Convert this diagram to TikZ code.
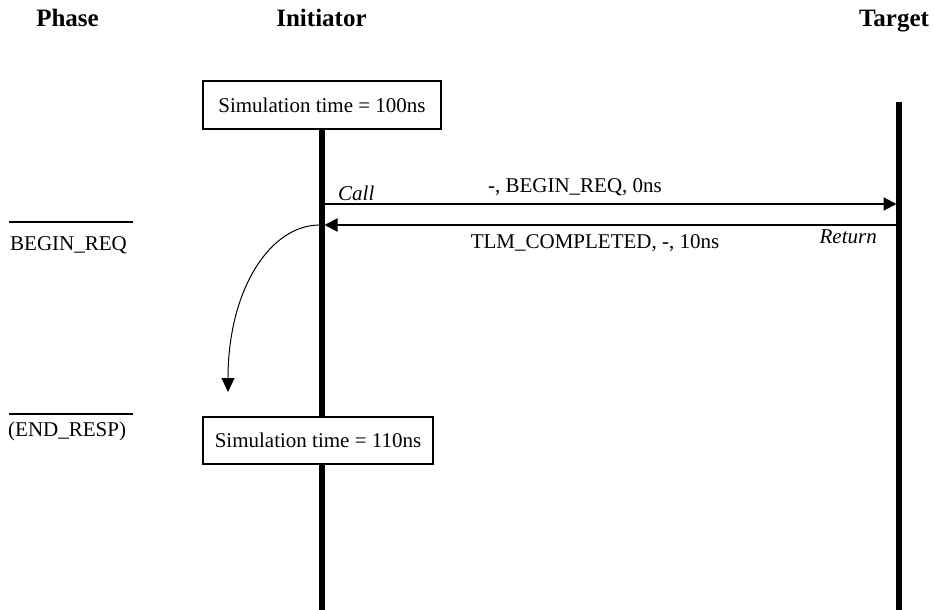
\documentclass[tikz,border=0pt]{standalone}
\usepackage{fontspec}
\setmainfont{Liberation Serif}
\usetikzlibrary{arrows.meta}
\tikzset{
  lbl/.style={inner sep=0pt, font=\fontsize{21}{25}\selectfont},
  head/.style={inner sep=0pt, anchor=base, font=\fontsize{25}{30}\selectfont\bfseries},
  timebox/.style={draw, line width=1.5pt, fill=white, minimum width=238pt, minimum height=48pt,
                  inner sep=0pt, font=\fontsize{21}{25}\selectfont},
  life/.style={line width=5.5pt},
  phaseline/.style={line width=1.5pt},
  msg/.style={line width=2pt, -{Triangle[length=13pt,width=13pt]}},
  hop/.style={line width=1pt, -{Triangle[length=14pt,width=13pt]}}
}
\begin{document}
\begin{tikzpicture}[x=1pt,y=-1pt]
  \useasboundingbox (0,0) rectangle (934,610);

  % column headings
  \node[head] (hPhase) at (67.5,27) {Phase};
  \node[head] (hInit)  at (321.5,27) {Initiator};
  \node[head] (hTgt)   at (894,27) {Target};

  % initiator time box and lifelines
  \node[timebox] (t100) at (322,105) {Simulation time = 100ns};
  \coordinate (initBot) at (322,610);
  \coordinate (tgtTop) at (899,102);
  \coordinate (tgtBot) at (899,610);
  \draw[life] (t100.south) -- (initBot);
  \draw[life] (tgtTop) -- (tgtBot);
  \node[timebox, minimum width=230pt, minimum height=47pt] (t110) at (318,440.5) {Simulation time = 110ns};

  % phase column
  \coordinate (p1a) at (9,222);  \coordinate (p1b) at (133,222);
  \coordinate (p2a) at (9,414);  \coordinate (p2b) at (133,414);
  \draw[phaseline] (p1a) -- (p1b);
  \draw[phaseline] (p2a) -- (p2b);
  \node[lbl, anchor=base west] (phBeg) at (10,250) {BEGIN\_REQ};
  \node[lbl, anchor=base west] (phEnd) at (8,436) {(END\_RESP)};

  % call and return of nb_transport
  \coordinate (callL) at (322,204);
  \coordinate (callR) at (896.5,204);
  \coordinate (retR) at (899,225);
  \coordinate (retL) at (324.5,225);
  \draw[msg] (callL) -- (callR);
  \draw[msg] (retR) -- (retL);
  \node[lbl, anchor=base west] (callTxt) at (338,200) {\itshape Call};
  \node[lbl, anchor=base] (callArgs) at (575,192) {-, BEGIN\_REQ, 0ns};
  \node[lbl, anchor=base] (retArgs) at (595,248) {TLM\_COMPLETED, -, 10ns};
  \node[lbl, anchor=base east] (retTxt) at (877,243) {\itshape Return};

  % annotated time advance
  \coordinate (hopS) at (321,225);
  \coordinate (hopE) at (228,392);
  \draw[hop] (hopS) .. controls (270,224) and (228,290) .. (hopE);
\end{tikzpicture}
\end{document}
